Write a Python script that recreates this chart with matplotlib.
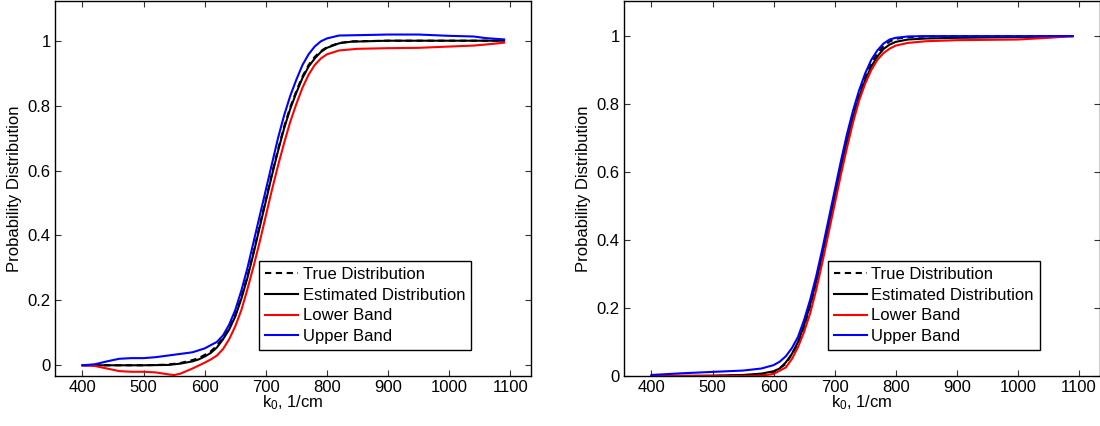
import numpy as np
import matplotlib
matplotlib.use("Agg")
from matplotlib import pyplot as plt

plt.rcParams['font.family'] = ['Liberation Sans', 'DejaVu Sans']
plt.rcParams['mathtext.fontset'] = 'custom'
plt.rcParams['mathtext.rm'] = 'Liberation Sans'
plt.rcParams['mathtext.it'] = 'Liberation Sans:italic'
plt.rcParams['mathtext.default'] = 'regular'

# ---- left panel ----
x_true_l = [400, 450, 500, 540, 560, 580, 590, 600, 610, 620, 630, 640, 650, 660, 670, 680, 690,
            700, 710, 720, 730, 740, 750, 760, 770, 780, 790, 800, 820, 840, 900, 1000, 1090]
y_true_l = [0.0, 0.0, 0.0, 0.002, 0.007, 0.016, 0.022, 0.032, 0.043, 0.06, 0.085, 0.115, 0.155, 0.21, 0.275,
            0.35, 0.43, 0.51, 0.59, 0.665, 0.735, 0.795, 0.845, 0.89, 0.925, 0.95, 0.968, 0.98, 0.993,
            0.998, 1.0, 1.0, 1.0]

x_est_l = [400, 450, 500, 540, 560, 580, 590, 600, 610, 620, 630, 640, 650, 660, 670, 680, 690,
           700, 710, 720, 730, 740, 750, 760, 770, 780, 790, 800, 820, 840, 900, 1000, 1090]
y_est_l = [0.0, 0.0, 0.0, 0.001, 0.005, 0.012, 0.018, 0.027, 0.038, 0.055, 0.08, 0.11, 0.15, 0.205, 0.27,
           0.345, 0.425, 0.505, 0.585, 0.66, 0.73, 0.79, 0.84, 0.885, 0.92, 0.945, 0.965, 0.978, 0.992,
           0.997, 1.0, 1.0, 1.0]

x_low_l = [400, 420, 440, 460, 480, 500, 520, 540, 550, 560, 580, 600, 610, 620, 630, 640, 650, 660,
           670, 680, 690, 700, 710, 720, 730, 740, 750, 760, 770, 780, 790, 800, 820, 850, 900, 950,
           1000, 1040, 1070, 1090]
y_low_l = [0.0, -0.002, -0.01, -0.018, -0.02, -0.02, -0.022, -0.028, -0.03, -0.026, -0.01, 0.008,
           0.018, 0.03, 0.05, 0.08, 0.12, 0.17, 0.235, 0.305, 0.38, 0.46, 0.54, 0.615, 0.685, 0.75,
           0.805, 0.855, 0.895, 0.925, 0.945, 0.958, 0.97, 0.975, 0.977, 0.978, 0.982, 0.985, 0.99, 0.994]

x_up_l = [400, 420, 440, 460, 480, 500, 520, 540, 560, 580, 600, 620, 630, 640, 650, 660, 670, 680,
          690, 700, 710, 720, 730, 740, 750, 760, 770, 780, 790, 800, 820, 850, 900, 950, 1000, 1040,
          1060, 1090]
y_up_l = [0.0, 0.003, 0.012, 0.02, 0.022, 0.022, 0.025, 0.03, 0.035, 0.04, 0.052, 0.072, 0.092, 0.125,
          0.17, 0.23, 0.3, 0.38, 0.46, 0.54, 0.62, 0.7, 0.77, 0.83, 0.88, 0.925, 0.958, 0.982, 0.998,
          1.007, 1.016, 1.017, 1.019, 1.019, 1.015, 1.013, 1.008, 1.004]

# ---- right panel ----
x_true_r = [400, 500, 560, 580, 600, 620, 640, 650, 660, 670, 680, 690, 700, 710, 720, 730, 740, 750,
            760, 770, 780, 790, 800, 820, 850, 900, 1090]
y_true_r = [0.0, 0.0, 0.002, 0.005, 0.012, 0.035, 0.095, 0.145, 0.205, 0.275, 0.355, 0.44, 0.525, 0.61,
            0.69, 0.765, 0.83, 0.88, 0.92, 0.95, 0.97, 0.984, 0.992, 0.997, 0.999, 1.0, 1.0]

x_est_r = [400, 500, 550, 580, 600, 610, 620, 630, 640, 650, 660, 670, 680, 690, 700, 710, 720, 730,
           740, 750, 760, 770, 780, 790, 800, 820, 850, 900, 1000, 1090]
y_est_r = [0.0, 0.001, 0.003, 0.007, 0.014, 0.022, 0.04, 0.065, 0.1, 0.15, 0.21, 0.28, 0.36, 0.44,
           0.525, 0.61, 0.69, 0.76, 0.82, 0.87, 0.91, 0.94, 0.962, 0.975, 0.983, 0.99, 0.993, 0.995,
           0.997, 1.0]

x_low_r = [400, 500, 560, 580, 600, 620, 630, 640, 650, 660, 670, 680, 690, 700, 710, 720, 730, 740,
           750, 760, 770, 780, 790, 800, 820, 850, 900, 1000, 1050, 1090]
y_low_r = [0.0, 0.0, 0.0, 0.001, 0.006, 0.025, 0.05, 0.085, 0.13, 0.185, 0.255, 0.335, 0.42, 0.505,
           0.59, 0.67, 0.745, 0.81, 0.86, 0.9, 0.93, 0.95, 0.963, 0.972, 0.98, 0.985, 0.988, 0.99,
           0.995, 1.0]

x_up_r = [400, 450, 500, 550, 580, 600, 610, 620, 630, 640, 650, 660, 670, 680, 690, 700, 710, 720,
          730, 740, 750, 760, 770, 780, 790, 800, 820, 850, 1090]
y_up_r = [0.003, 0.008, 0.012, 0.016, 0.022, 0.032, 0.042, 0.058, 0.082, 0.115, 0.165, 0.225, 0.295,
          0.375, 0.46, 0.545, 0.63, 0.71, 0.78, 0.84, 0.89, 0.93, 0.958, 0.978, 0.99, 0.995, 0.999,
          1.0, 1.0]

legend_labels = ["True Distribution", "Estimated Distribution", "Lower Band", "Upper Band"]
xticks = [400, 500, 600, 700, 800, 900, 1000, 1100]
yticks = [0, 0.2, 0.4, 0.6, 0.8, 1]
ytick_labels = ["0", "0.2", "0.4", "0.6", "0.8", "1"]

panels = [
    ([0.05, 0.1174, 0.4327, 0.88], (-0.033, 1.122),
     (x_true_l, y_true_l), (x_est_l, y_est_l), (x_low_l, y_low_l), (x_up_l, y_up_l)),
    ([0.5673, 0.1174, 0.4323, 0.88], (0.0, 1.103),
     (x_true_r, y_true_r), (x_est_r, y_est_r), (x_low_r, y_low_r), (x_up_r, y_up_r)),
]

fig = plt.figure(figsize=(11, 4.26), dpi=100)

for pos, ylim, true_d, est_d, low_d, up_d in panels:
    ax = fig.add_axes(pos)
    ax.plot(*est_d, color="black", lw=1.5)
    ax.plot(*true_d, color="black", lw=1.5, dashes=(3, 2.2))
    ax.plot(*low_d, color="#ff0000", lw=1.5)
    ax.plot(*up_d, color="#0000ff", lw=1.5)
    ax.set_xlim(355, 1134)
    ax.set_ylim(*ylim)
    ax.set_xticks(xticks)
    ax.set_yticks(yticks)
    ax.set_yticklabels(ytick_labels)
    ax.tick_params(direction="in", length=4, width=0.8, top=True, right=True,
                   labelsize=12, pad=3, color="#333333")
    for sp in ax.spines.values():
        sp.set_linewidth(1.0)
    ax.set_xlabel("k$_0$, 1/cm", fontsize=12, labelpad=-1)
    ax.set_ylabel("Probability Distribution", fontsize=12, labelpad=4)

    handles = [ax.lines[1], ax.lines[0], ax.lines[2], ax.lines[3]]
    leg = ax.legend(handles, legend_labels, loc="lower right", bbox_to_anchor=(0.874, 0.069),
                    fontsize=12, frameon=True, fancybox=False, framealpha=1,
                    edgecolor="black", handlelength=2.0, handletextpad=0.25,
                    labelspacing=0.35, borderpad=0.35, borderaxespad=0)
    leg.get_frame().set_linewidth(1.0)

fig.savefig("out.png", dpi=100)
